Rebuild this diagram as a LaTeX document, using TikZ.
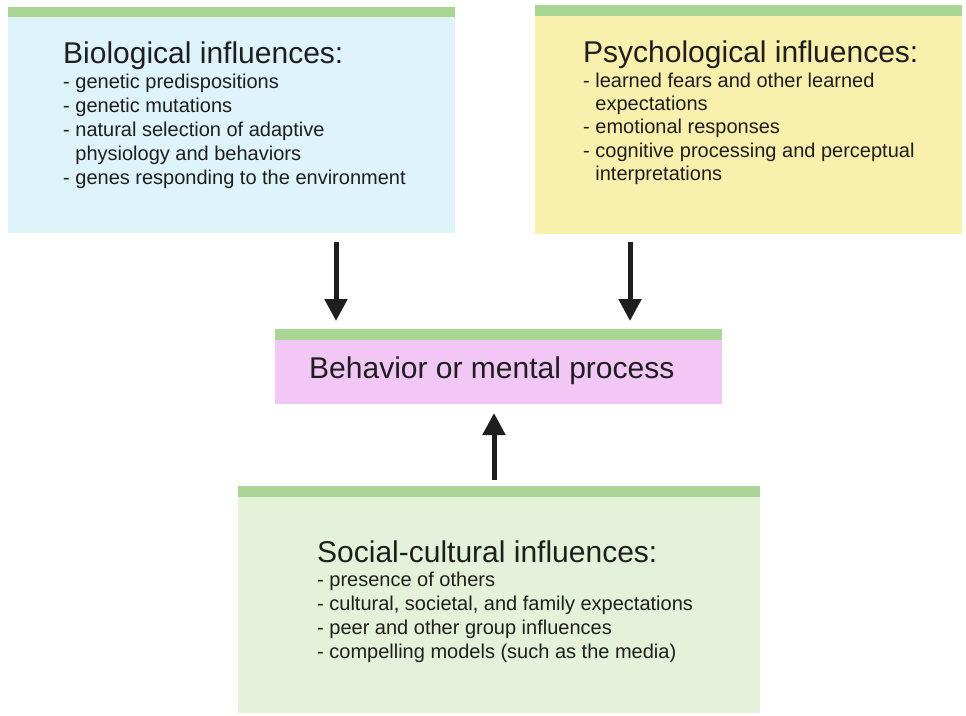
\documentclass[tikz,border=0pt]{standalone}
\usepackage{fontspec}
\setmainfont{Liberation Sans}
\usetikzlibrary{arrows.meta}
\definecolor{barGreen}{HTML}{A9D595}
\definecolor{bioFill}{HTML}{DFF3FB}
\definecolor{psyFill}{HTML}{F9F0AE}
\definecolor{behFill}{HTML}{F2C7F5}
\definecolor{socFill}{HTML}{E3F2D8}
\definecolor{inkGray}{HTML}{1E1E1E}
\tikzset{
  panel/.style={inner sep=0pt, outer sep=0pt},
  topbar/.style={fill=barGreen, draw=none},
  headline/.style={anchor=base west, inner sep=0pt, text=inkGray,
    font=\fontsize{30pt}{35pt}\selectfont},
  itemline/.style={anchor=base west, inner sep=0pt, text=inkGray,
    font=\fontsize{20pt}{24pt}\selectfont},
  bigarrow/.style={draw=inkGray, line width=5pt,
    -{Triangle[length=22pt, width=22pt]}}
}
\begin{document}
\begin{tikzpicture}[x=1pt, y=-1pt]
  \useasboundingbox[fill=white] (0,0) rectangle (966,715);

  % panels: fill rectangle plus green strip along the top
  \fill[bioFill] (8,7) rectangle (455,233);
  \node[panel, minimum width=447pt, minimum height=226pt, anchor=north west] (bio) at (8,7) {};
  \fill[topbar] (8,7) rectangle (455,17);

  \fill[psyFill] (535,5) rectangle (962,234);
  \node[panel, minimum width=427pt, minimum height=229pt, anchor=north west] (psy) at (535,5) {};
  \fill[topbar] (535,5) rectangle (962,16);

  \fill[behFill] (275,329) rectangle (722,404);
  \node[panel, minimum width=447pt, minimum height=75pt, anchor=north west] (beh) at (275,329) {};
  \fill[topbar] (275,329) rectangle (722,340);

  \fill[socFill] (238,486) rectangle (760,713);
  \node[panel, minimum width=522pt, minimum height=227pt, anchor=north west] (soc) at (238,486) {};
  \fill[topbar] (238,486) rectangle (760,497);

  % biological influences
  \node[headline] (bioT) at (63,63) {Biological influences:};
  \foreach \t [count=\i] in {{- genetic predispositions},{- genetic mutations},
      {- natural selection of adaptive},{\phantom{- }physiology and behaviors},
      {- genes responding to the environment}}
    \node[itemline] (bio\i) at (63,{88+24*(\i-1)}) {\t};

  % psychological influences
  \node[headline] (psyT) at (583,62) {Psychological influences:};
  \foreach \t [count=\i] in {{- learned fears and other learned},{\phantom{- }expectations},
      {- emotional responses},{- cognitive processing and perceptual},
      {\phantom{- }interpretations}}
    \node[itemline] (psy\i) at (583,{87+23.4*(\i-1)}) {\t};

  % central box
  \node[headline] (behT) at (309,378) {Behavior or mental process};

  % social-cultural influences
  \node[headline] (socT) at (317,562) {Social-cultural influences:};
  \foreach \t [count=\i] in {{- presence of others},{- cultural, societal, and family expectations},
      {- peer and other group influences},{- compelling models (such as the media)}}
    \node[itemline] (soc\i) at (317,{586+24*(\i-1)}) {\t};

  % arrows into the central box
  \coordinate (ax1) at (336,0);
  \coordinate (ax2) at (630,0);
  \coordinate (ax3) at (494,0);
  \draw[bigarrow, shorten <=9pt, shorten >=8pt] (bio.south -| ax1) -- (beh.north -| ax1);
  \draw[bigarrow, shorten <=8pt, shorten >=8pt] (psy.south -| ax2) -- (beh.north -| ax2);
  \draw[bigarrow, shorten <=6pt, shorten >=9pt] (soc.north -| ax3) -- (beh.south -| ax3);
\end{tikzpicture}
\end{document}
